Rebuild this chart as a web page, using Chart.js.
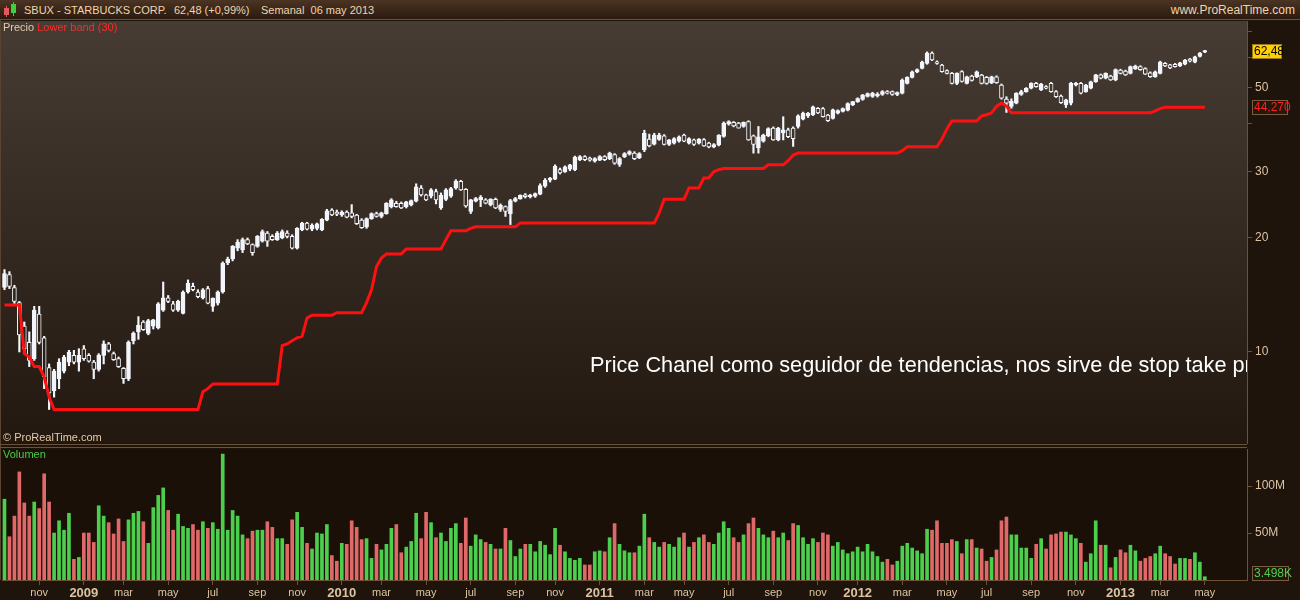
<!DOCTYPE html>
<html>
<head>
<meta charset="utf-8">
<title>SBUX semanal</title>
<script src="https://cdn.jsdelivr.net/npm/chart.js@4.4.0/dist/chart.umd.min.js"></script>
<style>
  html, body { margin: 0; padding: 0; }
  body { width: 1300px; height: 600px; overflow: hidden; position: relative; background: #1e140c;
         font-family: 'Liberation Sans', Arial, sans-serif; }
  .abs { position: absolute; white-space: nowrap; }
  #header { left: 0; top: 0; width: 1300px; height: 20px; background: linear-gradient(#4b3423, #2a1a0e);
            border-bottom: 1px solid #6e5238; box-sizing: border-box; }
  #header .t { position: absolute; top: 5px; font-size: 11px; line-height: 11px; color: #f0d4ae; }
  .lbl { font-size: 11px; line-height: 11px; }
  canvas { position: absolute; left: 0; }
  #priceCanvas { top: 20px; }
  #volCanvas { top: 448px; }
  .sep { position: absolute; left: 0; width: 1247px; height: 1px; background: #6e5238; }
</style>
</head>
<body>
<div id="header" class="abs">
  <div class="abs" style="left:4px;top:8px;width:5px;height:7px;background:#e05a5a;"></div>
  <div class="abs" style="left:6px;top:6px;width:1px;height:11px;background:#e05a5a;"></div>
  <div class="abs" style="left:11px;top:4px;width:5px;height:9px;background:#3ecf3e;"></div>
  <div class="abs" style="left:13px;top:2px;width:1px;height:14px;background:#3ecf3e;"></div>
  <span class="t" style="left:24px;">SBUX - STARBUCKS CORP.</span>
  <span class="t" style="left:174px;">62,48 (+0,99%)</span>
  <span class="t" style="left:261px;">Semanal&nbsp;&nbsp;06 may 2013</span>
  <span class="t" style="right:5px;font-size:12px;">www.ProRealTime.com</span>
</div>

<canvas id="priceCanvas" width="1300" height="424" style="width:1300px;height:424px"></canvas>
<canvas id="volCanvas" width="1300" height="152" style="width:1300px;height:152px"></canvas>

<div class="abs" style="left:0;top:20px;width:1px;height:560px;background:#5a4430;"></div>
<div class="sep" style="top:444px;"></div>
<div class="sep" style="top:447px;"></div>

<div class="abs lbl" style="left:3px;top:22px;color:#e6caa6;">Precio <span style="color:#ff2a2a;">Lower band (30)</span></div>
<div class="abs lbl" style="left:3px;top:432px;color:#e6caa6;">© ProRealTime.com</div>
<div class="abs lbl" style="left:3px;top:449px;color:#48cc48;">Volumen</div>

<script>
// ─── Weekly SBUX data, first bar = week of 15 Sep 2008 ───────────────
const opens = [
  14.8,16.0,14.8,13.5,11.7,10.6,9.6,12.6,10.9,9.1,
  7.9,8.5,8.9,9.4,9.8,9.4,10.2,9.8,9.4,9.0,
  9.8,10.5,9.9,9.6,9.06,8.5,10.7,11.3,12.0,11.2,
  11.7,11.6,12.9,13.9,13.4,12.9,12.65,14.4,14.9,14.4,
  13.9,14.7,13.2,13.45,14.4,17.2,17.6,18.8,18.6,19.8,
  19.2,19.0,19.6,20.6,20.2,19.8,20.0,20.6,20.2,18.8,
  21.0,21.9,21.1,21.2,21.0,22.3,23.7,23.4,23.0,23.4,
  23.3,23.0,22.3,21.4,22.5,23.2,22.8,23.2,24.2,24.7,
  24.7,24.2,24.5,25.0,27.1,26.0,25.8,26.5,24.0,25.3,
  25.8,27.1,28.2,26.9,23.5,25.0,25.2,25.2,24.5,25.3,
  23.8,24.2,23.2,25.0,25.4,26.0,25.7,25.8,26.1,27.4,
  28.4,28.6,30.3,29.9,30.4,30.3,32.2,32.8,32.5,31.9,
  32.1,32.8,32.4,33.2,31.3,32.8,33.3,33.5,32.6,34.2,
  36.5,35.4,36.4,37.2,35.3,35.6,36.0,37.4,35.6,36.3,
  35.6,36.4,35.6,34.8,35.2,37.1,40.0,40.4,40.2,39.4,
  40.6,37.2,34.6,36.0,37.2,39.0,36.3,37.9,38.6,39.0,
  39.4,41.2,42.0,42.3,44.0,43.9,42.2,41.4,42.7,43.2,
  43.5,45.0,45.8,46.4,47.3,47.3,47.4,47.9,48.7,48.7,
  47.9,48.2,51.2,53.1,54.9,56.1,57.8,61.5,58.4,57.2,
  55.3,54.4,51.2,55.0,51.2,53.5,53.3,53.8,53.1,51.4,
  53.3,50.7,46.5,44.5,45.4,47.9,48.7,49.7,51.2,49.2,
  50.2,51.2,48.7,47.4,45.0,45.4,50.7,51.2,48.7,49.7,
  51.7,53.9,52.8,53.5,52.3,55.5,55.2,54.4,55.9,56.7,
  56.0,54.6,53.3,54.4,57.8,57.3,57.5,56.9,57.5,59.3,
  58.2,60.3,61.9
];
const highs = [
  16.5,16.3,15.0,13.6,12.0,11.3,13.2,13.2,11.0,9.3,
  9.0,9.6,9.8,10.1,10.1,10.2,10.4,9.9,9.5,9.9,
  10.7,10.6,10.0,9.7,9.1,10.7,11.3,12.4,12.1,12.2,
  12.2,13.5,15.3,14.1,13.6,13.7,14.5,15.5,15.2,14.6,
  14.7,14.9,13.9,14.5,17.3,17.8,19.1,19.8,20.0,20.0,
  19.3,20.3,21.0,20.8,20.4,20.8,21.0,20.9,20.4,21.3,
  22.0,22.0,21.8,21.9,22.5,23.8,23.9,23.7,23.6,23.6,
  24.5,23.1,22.5,22.6,23.3,23.4,23.4,24.8,25.4,25.0,
  24.9,25.0,25.2,27.8,27.5,26.1,27.0,26.9,26.3,27.0,
  27.2,28.5,28.4,27.0,25.3,25.6,25.9,25.4,25.4,25.5,
  24.6,24.3,25.3,25.6,26.0,26.2,26.1,26.3,27.8,28.7,
  28.9,31.2,30.6,31.0,31.3,32.9,33.0,33.0,32.7,32.6,
  33.0,33.0,33.7,33.4,32.6,33.6,34.0,33.8,33.6,38.5,
  37.6,37.8,37.8,37.5,36.4,36.8,37.2,37.6,36.8,36.5,
  36.6,36.6,35.8,35.5,37.5,40.5,40.8,40.6,40.4,40.5,
  40.8,37.4,39.4,37.6,39.1,39.3,39.2,41.8,39.0,39.3,
  42.3,43.0,42.9,44.6,44.2,44.2,42.4,43.8,43.6,44.1,
  45.5,45.9,46.9,47.9,48.3,48.5,48.4,49.0,49.0,48.9,
  48.6,52.6,53.3,55.2,55.9,58.6,62.0,62.0,58.7,57.5,
  55.6,54.7,54.6,55.3,53.5,53.8,55.2,54.1,53.4,53.5,
  53.6,51.0,47.2,46.6,48.4,49.1,49.9,51.4,51.5,51.2,
  50.5,51.5,49.0,47.7,46.5,51.5,51.5,51.5,50.9,51.9,
  54.1,54.2,54.6,53.8,55.9,55.8,55.5,56.9,57.2,57.0,
  56.3,54.9,55.2,58.6,58.1,57.5,57.8,58.2,59.2,59.6,
  60.4,61.8,62.6
];
const lows = [
  14.6,14.7,13.4,10.0,9.9,9.15,9.5,10.5,8.0,7.05,
  7.6,8.0,8.8,9.2,9.3,8.9,9.5,9.4,8.5,8.9,
  9.3,10.0,9.5,9.1,8.26,8.4,10.5,10.8,11.4,11.1,
  11.5,11.5,12.8,13.5,12.8,12.8,12.6,14.3,14.5,13.9,
  13.8,13.4,12.8,13.3,14.3,17.0,17.4,18.5,18.3,19.2,
  18.0,18.9,19.5,19.0,19.7,19.7,19.9,20.0,18.7,18.7,
  20.9,21.0,20.9,21.0,20.9,22.2,22.9,22.9,22.8,22.6,
  22.6,21.7,21.2,21.2,22.4,22.7,22.6,23.1,24.0,24.1,
  23.9,24.0,24.3,24.9,25.8,25.1,25.5,24.6,23.8,25.1,
  25.6,26.9,26.7,24.1,23.2,24.9,24.2,24.6,24.3,23.9,
  23.5,22.8,21.7,24.9,25.3,25.5,25.5,25.6,26.0,27.2,
  28.1,28.5,29.5,29.8,30.1,30.1,32.0,32.0,31.9,31.7,
  32.0,32.0,32.2,31.3,30.9,32.6,33.1,32.2,32.4,33.8,
  34.8,35.2,36.2,35.2,35.1,35.4,35.8,35.9,35.4,35.1,
  35.4,34.9,34.6,34.6,35.0,36.9,39.7,39.3,39.0,39.2,
  36.2,33.5,33.5,35.8,37.0,36.2,36.1,36.3,36.8,34.9,
  39.0,41.0,41.6,42.1,42.6,41.7,40.6,41.2,42.5,43.0,
  43.3,44.7,45.6,46.2,47.1,47.0,47.1,47.6,48.0,47.6,
  47.5,48.0,51.0,52.9,54.6,55.9,57.5,58.8,57.5,54.8,
  54.2,51.0,50.8,51.6,51.0,51.9,53.0,51.0,50.9,51.1,
  51.2,46.5,42.9,44.0,45.2,47.6,48.5,49.5,50.0,49.0,
  49.5,48.5,47.0,45.3,44.2,44.9,50.4,48.0,48.5,49.5,
  51.5,52.6,52.6,52.1,52.0,54.2,53.7,54.2,55.7,55.4,
  54.0,53.1,53.1,54.2,56.7,56.0,56.5,56.7,57.3,58.3,
  58.0,60.1,61.7
];
const closes = [
  16.1,14.9,13.6,11.1,10.2,9.5,12.9,10.6,8.6,7.8,
  8.9,9.4,9.7,10.0,9.4,9.8,9.6,9.45,9.0,9.8,
  10.5,10.1,9.55,9.15,8.5,10.6,11.2,11.75,11.45,12.1,
  12.15,13.4,13.9,13.6,12.9,13.6,14.4,15.2,14.6,14.0,
  14.6,13.45,13.85,14.4,17.15,17.6,19.0,19.5,19.8,19.3,
  18.3,20.2,20.8,19.6,19.8,20.6,20.8,20.2,18.8,21.2,
  21.9,21.1,21.6,21.8,22.4,23.6,23.0,23.1,23.4,22.7,
  22.8,21.8,21.3,22.5,23.2,22.8,23.3,24.7,25.2,24.2,
  24.0,24.9,25.1,27.3,26.0,25.2,26.8,25.2,25.9,26.8,
  27.0,28.2,26.8,24.3,25.2,25.4,25.6,24.7,25.3,24.0,
  24.4,23.5,25.1,25.4,25.9,25.7,25.9,26.2,27.5,28.4,
  28.8,30.9,29.7,30.8,31.2,32.7,32.8,32.2,32.1,32.4,
  32.8,32.2,33.5,31.5,32.4,33.4,33.8,32.4,33.4,37.8,
  35.0,37.4,37.4,35.3,36.3,36.6,37.0,36.0,36.6,35.3,
  36.5,35.0,34.8,35.3,37.3,40.2,40.6,39.5,39.0,40.4,
  36.3,35.3,37.0,37.4,38.9,36.3,39.0,38.6,37.0,36.6,
  42.0,42.7,42.7,44.4,42.8,41.8,40.8,43.6,43.4,43.9,
  45.3,45.8,46.7,47.7,48.1,48.2,48.0,48.7,48.2,47.9,
  48.4,52.2,53.1,54.9,55.7,58.3,61.5,59.0,57.8,55.0,
  54.4,51.2,54.4,51.8,53.3,52.1,54.9,51.2,51.2,53.3,
  51.4,46.8,45.4,45.9,48.2,48.7,49.7,51.2,50.2,51.0,
  49.7,48.7,47.2,45.5,46.3,51.2,51.2,48.2,50.7,51.7,
  53.9,52.8,54.4,52.3,55.7,54.4,53.9,56.7,56.9,55.6,
  54.1,53.3,54.9,58.3,56.9,56.2,56.7,58.0,59.0,58.6,
  60.2,61.5,62.48
];
// weekly volume, millions of shares
const volumes = [
  86,46,68,115,82,68,83,76,113,83,
  50,63,53,71,22,24,50,50,40,79,
  68,61,49,65,41,64,71,73,62,39,
  77,90,98,74,53,70,57,55,59,53,
  62,55,61,54,134,53,74,68,48,44,
  52,53,53,62,56,44,44,38,64,72,
  56,39,33,50,49,59,26,20,39,38,
  63,56,43,44,23,38,32,38,55,59,
  29,35,41,71,44,72,61,45,50,41,
  55,60,39,66,36,48,43,40,38,33,
  33,55,42,25,33,38,38,30,41,37,
  27,55,37,30,23,21,23,16,16,30,
  31,30,45,60,38,31,29,29,36,70,
  45,40,35,40,38,35,45,50,35,40,
  45,48,40,38,50,62,55,45,40,48,
  60,66,55,48,45,52,45,50,42,60,
  58,45,38,44,40,50,48,36,40,32,
  28,30,35,30,38,30,25,19,22,16,
  20,36,39,34,31,28,54,53,63,39,
  39,43,41,28,43,43,34,33,20,24,
  32,63,67,48,48,34,34,23,38,44,
  33,48,49,51,51,48,44,39,19,28,
  63,37,37,13,24,32,29,37,31,20,
  23,25,28,36,28,25,17,23,23,22,
  29,19,3.498
];
// Price channel lower band (30 weeks)
const lowerBand = [
  13.3,13.3,13.3,13.3,9.9,9.7,9.15,9.15,8.6,7.6,
  7.05,7.05,7.05,7.05,7.05,7.05,7.05,7.05,7.05,7.05,
  7.05,7.05,7.05,7.05,7.05,7.05,7.05,7.05,7.05,7.05,
  7.05,7.05,7.05,7.05,7.05,7.05,7.05,7.05,7.05,7.05,
  7.85,8.0,8.23,8.23,8.23,8.23,8.23,8.23,8.23,8.23,
  8.23,8.23,8.23,8.23,8.23,8.23,10.4,10.5,10.7,10.9,
  11.0,12.3,12.5,12.5,12.5,12.5,12.5,12.7,12.7,12.7,
  12.7,12.7,12.7,13.5,14.6,16.8,17.7,18.15,18.15,18.15,
  18.15,18.7,18.7,18.7,18.7,18.7,18.7,18.7,18.7,19.8,
  20.9,20.9,20.9,20.9,21.2,21.4,21.4,21.4,21.4,21.4,
  21.4,21.4,21.4,21.4,21.9,21.9,21.9,21.9,21.9,21.9,
  21.9,21.9,21.9,21.9,21.9,21.9,21.9,21.9,21.9,21.9,
  21.9,21.9,21.9,21.9,21.9,21.9,21.9,21.9,21.9,21.9,
  21.9,21.9,23.3,25.3,25.3,25.3,25.3,25.3,27.1,27.1,
  27.1,28.8,28.8,29.9,30.3,30.5,30.5,30.5,30.5,30.5,
  30.5,30.5,30.5,30.5,31.2,31.2,31.2,31.2,32.0,33.1,
  33.5,33.5,33.5,33.5,33.5,33.5,33.5,33.5,33.5,33.5,
  33.5,33.5,33.5,33.5,33.5,33.5,33.5,33.5,33.5,33.5,
  33.5,34.0,34.8,34.8,34.8,34.8,34.8,34.8,34.8,36.5,
  38.8,40.7,40.7,40.7,40.7,40.7,40.7,42.0,42.3,42.8,
  44.5,45.4,44.6,42.8,42.8,42.8,42.8,42.8,42.8,42.8,
  42.8,42.8,42.8,42.8,42.8,42.8,42.8,42.8,42.8,42.8,
  42.8,42.8,42.8,42.8,42.8,42.8,42.8,42.8,42.8,42.8,
  42.8,42.8,43.3,43.9,44.27,44.27,44.27,44.27,44.27,44.27,
  44.27,44.27,44.27
];

const PRICE_TICKS  = [10, 20, 30, 40, 50, 60, 70];
const PRICE_LABELS = [10, 20, 30, 50];
const VOL_TICKS    = [50, 100];
const MONTHS = ['ene', 'feb', 'mar', 'abr', 'may', 'jun', 'jul', 'ago', 'sep', 'oct', 'nov', 'dic'];
const NOTE = 'Price Chanel como seguidor de tendencias, nos sirve de stop take profit';

const N = closes.length;
const SLOTS = 251;            // empty weeks kept at the right edge

const UP_COL   = '#f2f5fc';
const VOL_UP   = '#4ccf4c';
const VOL_DOWN = '#e06868';
const TAN      = '#dcc4a2';
const LINE_COL = '#6e5238';
const BG_TOP   = [70, 60, 52];
const BG_BOT   = [34, 24, 15];

// x labels: one per week, month name on the first week of every other month
const labels = [];
for (let i = 0; i < SLOTS; i++) {
  if (i >= N) { labels.push(''); continue; }
  const d = new Date(2008, 8, 15 + 7 * i);
  const m = d.getMonth();
  if (d.getDate() <= 7 && m % 2 === 0) labels.push(m === 0 ? String(d.getFullYear()) : MONTHS[m]);
  else labels.push('');
}

const isUp = i => closes[i] >= opens[i];

function bgAt(y, area) {
  const t = Math.min(1, Math.max(0, (y - area.top) / (area.bottom - area.top)));
  const c = BG_TOP.map((v, k) => Math.round(v + (BG_BOT[k] - v) * t));
  return `rgb(${c[0]},${c[1]},${c[2]})`;
}

// keep the plot area flush with the canvas edges (no room kept for end labels)
const fixedWidth = s => { s.width = 53; s.paddingTop = 0; s.paddingBottom = 0; };

Chart.defaults.font.family = "'Liberation Sans', Arial, sans-serif";
Chart.defaults.color = TAN;

// ─── plugins ─────────────────────────────────────────────────────
const panelBg = {
  id: 'panelBg',
  beforeDraw(chart, args, opts) {
    const { ctx, chartArea: a } = chart;
    let fill = opts.color;
    if (opts.gradient) {
      fill = ctx.createLinearGradient(0, a.top, 0, a.bottom);
      fill.addColorStop(0, `rgb(${BG_TOP.join(',')})`);
      fill.addColorStop(1, `rgb(${BG_BOT.join(',')})`);
    }
    ctx.save();
    ctx.fillStyle = fill;
    ctx.fillRect(0, a.top, a.right, a.height);
    ctx.restore();
  }
};

function tag(ctx, x, y, w, text, fill, color, stroke) {
  ctx.save();
  ctx.fillStyle = fill;
  ctx.fillRect(x, Math.round(y) - 7, w, 15);
  ctx.strokeStyle = stroke;
  ctx.lineWidth = 1;
  ctx.strokeRect(x + 0.5, Math.round(y) - 6.5, w - 1, 14);
  ctx.fillStyle = color;
  ctx.font = "12px 'Liberation Sans', Arial, sans-serif";
  ctx.textBaseline = 'middle';
  ctx.fillText(text, x + 2, Math.round(y) + 1);
  ctx.restore();
}

const priceExtras = {
  id: 'priceExtras',
  afterDraw(chart) {
    const { ctx, chartArea: a, scales: { y } } = chart;
    ctx.save();
    ctx.beginPath();
    ctx.rect(a.left, a.top, a.width, a.height);
    ctx.clip();
    ctx.font = "21.7px 'Liberation Sans', Arial, sans-serif";
    ctx.fillStyle = '#ffffff';
    ctx.fillText(NOTE, 590, 352);
    ctx.restore();
    tag(ctx, 1252, y.getPixelForValue(closes[N - 1]), 30,
        closes[N - 1].toFixed(2).replace('.', ','), '#ffd000', '#000000', '#9a7a10');
    tag(ctx, 1252, y.getPixelForValue(lowerBand[N - 1]), 36,
        lowerBand[N - 1].toFixed(3).replace('.', ','), '#24170d', '#ff2020', '#7a5c40');
  }
};

const volExtras = {
  id: 'volExtras',
  afterDraw(chart) {
    const { ctx, scales: { y } } = chart;
    tag(ctx, 1252, y.getPixelForValue(volumes[N - 1]) - 4, 37,
        volumes[N - 1].toFixed(3) + 'K', '#24170d', VOL_UP, '#7a5c40');
  }
};

// ─── price panel ─────────────────────────────────────────────────
new Chart(document.getElementById('priceCanvas'), {
  type: 'bar',
  data: {
    labels,
    datasets: [
      {
        type: 'line',
        data: lowerBand,
        borderColor: '#ff1010',
        borderWidth: 3,
        pointRadius: 0,
        tension: 0,
        order: 0,
      },
      {
        data: opens.map((o, i) => [Math.min(o, closes[i]), Math.max(o, closes[i])]),
        barThickness: 4,
        minBarLength: 1.5,
        grouped: false,
        borderWidth: 1,
        borderSkipped: false,
        borderColor: UP_COL,
        backgroundColor: c => isUp(c.dataIndex) ? UP_COL
          : bgAt(c.chart.scales.y.getPixelForValue(closes[c.dataIndex]), c.chart.chartArea),
        order: 1,
      },
      {
        data: lows.map((l, i) => [l, highs[i]]),
        barThickness: 1.5,
        grouped: false,
        backgroundColor: UP_COL,
        order: 2,
      }
    ]
  },
  options: {
    responsive: false,
    animation: false,
    devicePixelRatio: 1,
    layout: { padding: { left: 2, top: 1, bottom: 1, right: 0 } },
    plugins: { legend: { display: false }, tooltip: { enabled: false }, panelBg: { gradient: true } },
    scales: {
      x: { display: false, offset: true },
      y: {
        type: 'logarithmic',
        position: 'right',
        min: 5.75,
        max: 74.8,
        afterFit: fixedWidth,
        afterBuildTicks: s => { s.ticks = PRICE_TICKS.map(v => ({ value: v })); },
        ticks: {
          callback: v => PRICE_LABELS.includes(v) ? String(v) : '',
          color: TAN,
          font: { size: 12 },
          padding: 3,
        },
        grid: { drawOnChartArea: false, tickLength: 5, color: LINE_COL },
        border: { color: LINE_COL },
      }
    }
  },
  plugins: [panelBg, priceExtras]
});

// ─── volume panel ────────────────────────────────────────────────
new Chart(document.getElementById('volCanvas'), {
  type: 'bar',
  data: {
    labels,
    datasets: [{
      data: volumes,
      barThickness: 3,
      backgroundColor: c => isUp(c.dataIndex) ? VOL_UP : VOL_DOWN,
    }]
  },
  options: {
    responsive: false,
    animation: false,
    devicePixelRatio: 1,
    layout: { padding: { left: 2, top: 1, bottom: 0, right: 0 } },
    plugins: { legend: { display: false }, tooltip: { enabled: false }, panelBg: { color: '#1a1008' } },
    scales: {
      x: {
        offset: true,
        afterFit: s => { s.height = 20; s.paddingLeft = 0; s.paddingRight = 0; },
        afterBuildTicks: s => { s.ticks = s.ticks.filter(t => labels[t.value] !== ''); },
        ticks: {
          autoSkip: false,
          maxRotation: 0,
          padding: 1,
          color: TAN,
          font: c => /^\d{4}$/.test(c.tick && c.tick.label) ? { size: 13, weight: 'bold' } : { size: 11 },
        },
        grid: { offset: false, drawOnChartArea: false, tickLength: 5, color: LINE_COL },
        border: { color: LINE_COL },
      },
      y: {
        position: 'right',
        min: 0,
        max: 139.4,
        afterFit: fixedWidth,
        afterBuildTicks: s => { s.ticks = VOL_TICKS.map(v => ({ value: v })); },
        ticks: { callback: v => v + 'M', color: TAN, font: { size: 12 }, padding: 3 },
        grid: { drawOnChartArea: false, tickLength: 5, color: LINE_COL },
        border: { color: LINE_COL },
      }
    }
  },
  plugins: [panelBg, volExtras]
});
</script>
</body>
</html>
